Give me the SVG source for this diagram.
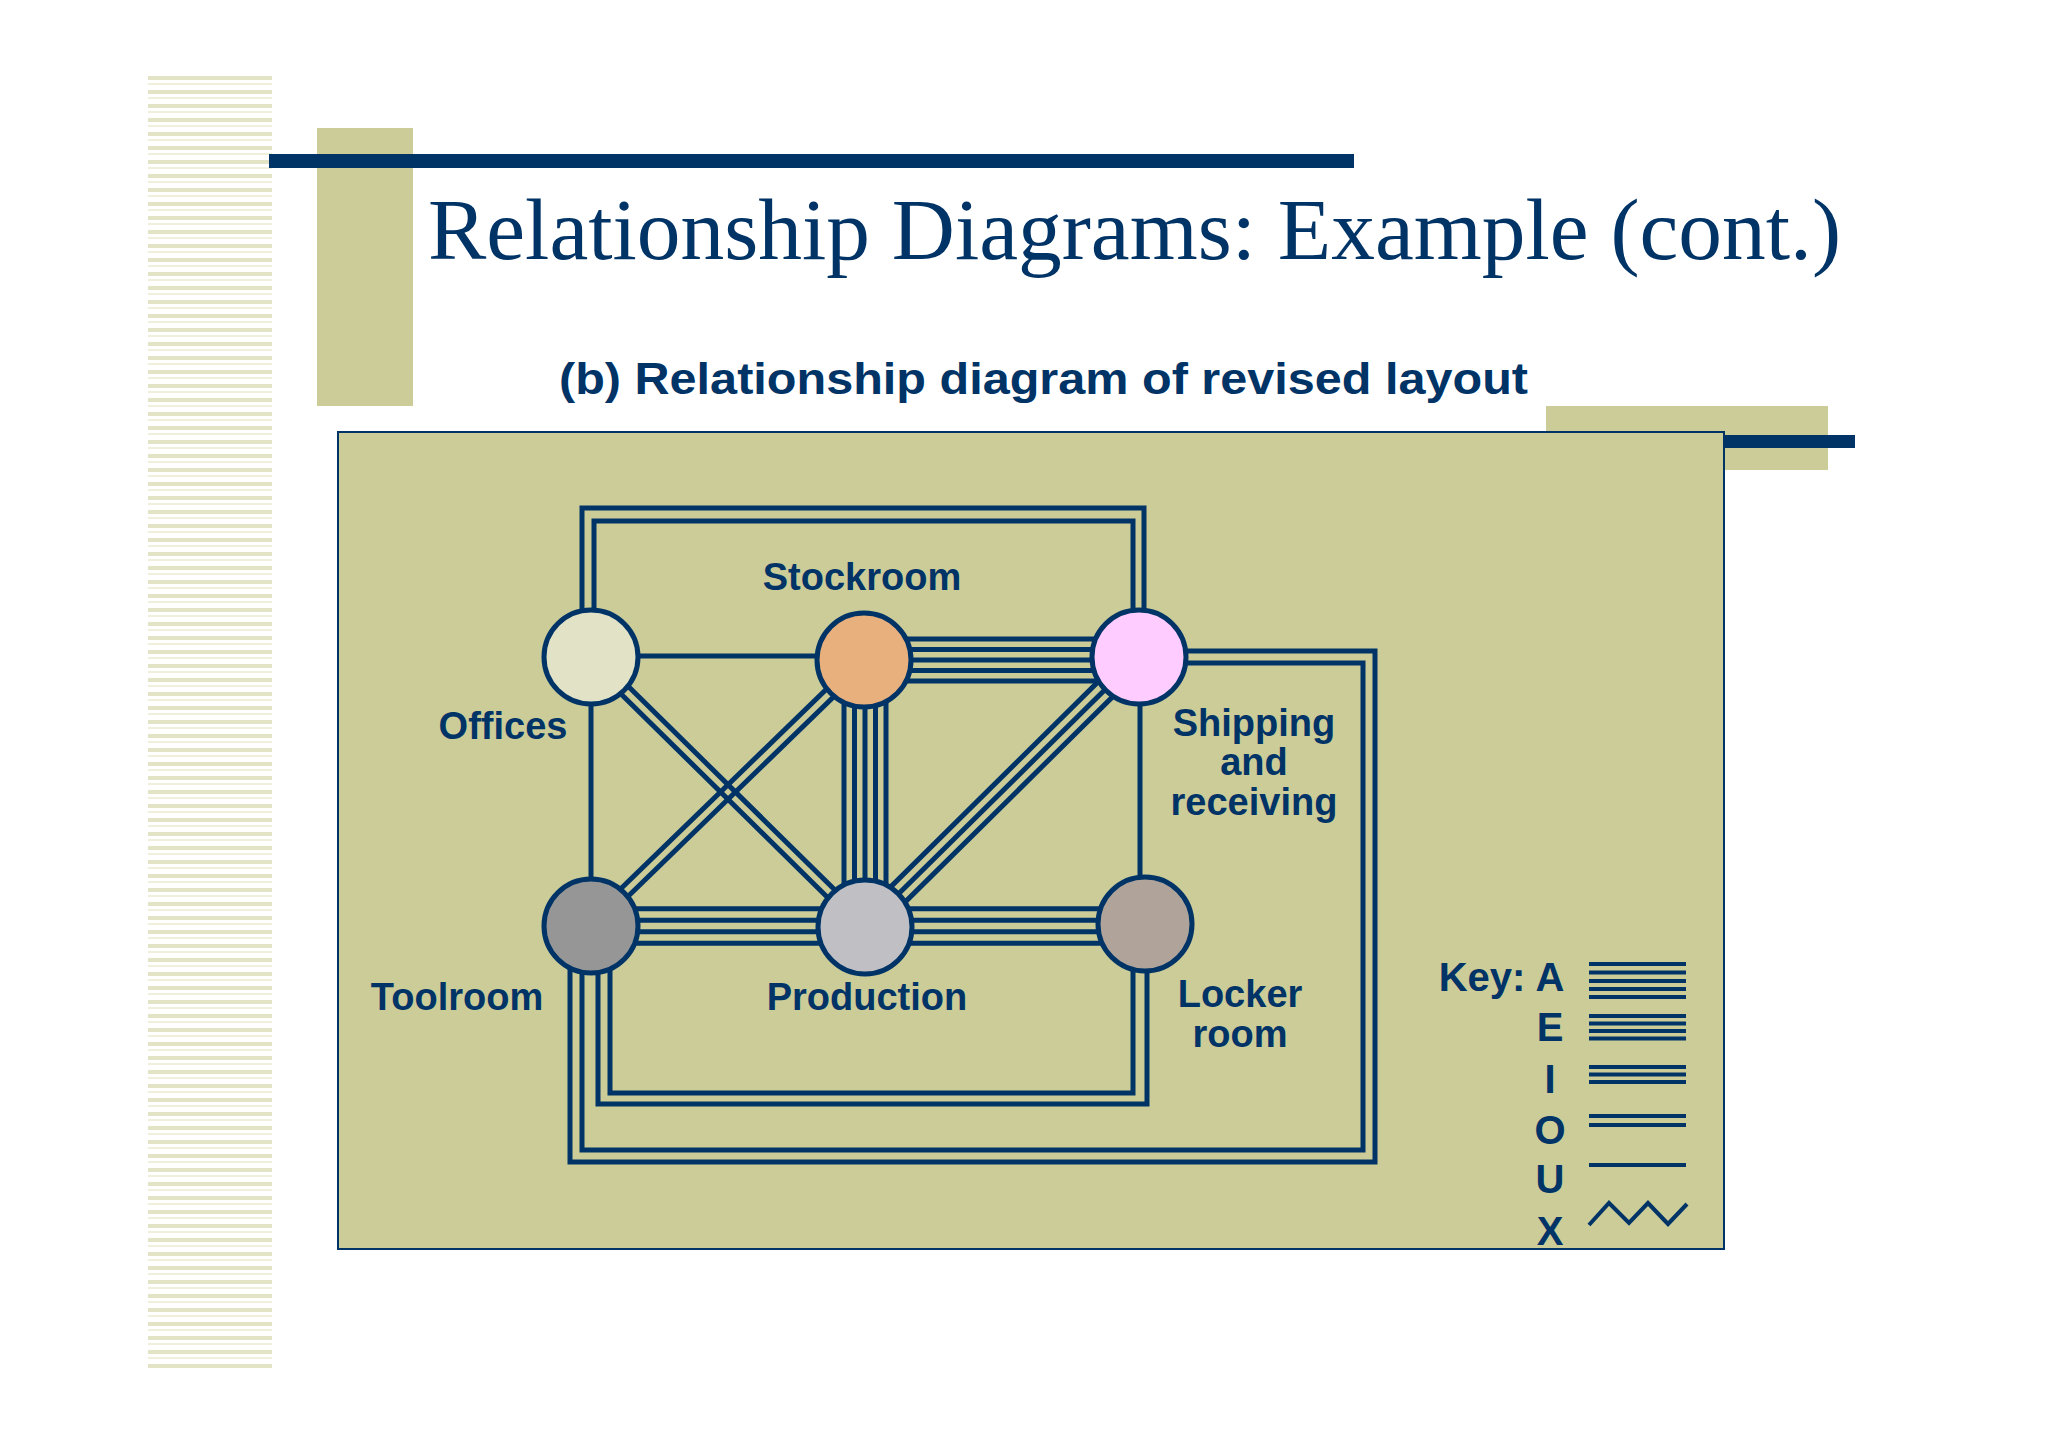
<svg xmlns="http://www.w3.org/2000/svg" width="2048" height="1447" viewBox="0 0 2048 1447">
<defs>
<pattern id="stripes" x="0" y="76" width="124" height="14" patternUnits="userSpaceOnUse">
<rect x="0" y="0" width="124" height="4" fill="#e3e3c6"/>
<rect x="0" y="7" width="124" height="2" fill="#efefdc"/>
</pattern>
<style>
.ln{stroke:#003366;stroke-width:5;fill:none;stroke-linejoin:miter}
.kl{stroke:#003366;stroke-width:4;fill:none}
.node{stroke:#003366;stroke-width:5}
.lbl{font-family:"Liberation Sans",Arial,sans-serif;font-weight:bold;font-size:38px;fill:#003366;text-anchor:middle}
.key{font-family:"Liberation Sans",Arial,sans-serif;font-weight:bold;font-size:40px;fill:#003366;text-anchor:middle}
</style>
</defs>
<rect width="2048" height="1447" fill="#ffffff"/>
<rect x="148" y="76" width="124" height="1293" fill="url(#stripes)"/>
<rect x="317" y="128" width="96" height="278" fill="#cccc99"/>
<rect x="269" y="154" width="1085" height="14" fill="#003366"/>
<text x="428" y="259" font-family="'Liberation Serif','Times New Roman',serif" font-size="86" fill="#003366" textLength="1413" lengthAdjust="spacingAndGlyphs">Relationship Diagrams: Example (cont.)</text>
<text x="559" y="394" font-family="'Liberation Sans',Arial,sans-serif" font-weight="bold" font-size="45" fill="#003366" textLength="969" lengthAdjust="spacingAndGlyphs">(b) Relationship diagram of revised layout</text>
<rect x="1546" y="406" width="282" height="64" fill="#cccc99"/>
<rect x="338" y="432" width="1386" height="817" fill="#cccc99" stroke="#003366" stroke-width="2"/>
<rect x="1724" y="435" width="131" height="13" fill="#003366"/>

<g id="connectors">
<!-- Offices-Shipping O -->
<path class="ln" d="M582,657 V508 H1144 V657"/>
<path class="ln" d="M594,657 V521 H1133 V657"/>
<!-- Offices-Stockroom U -->
<path class="ln" d="M591,656 H864"/>
<!-- Offices-Toolroom U -->
<path class="ln" d="M591,657 V925"/>
<!-- Shipping-Locker U -->
<path class="ln" d="M1140,657 V923"/>
<!-- Offices-Production O -->
<path class="ln" d="M594.7,653.3 L868.7,923.3 M587.3,660.7 L861.3,930.7"/>
<!-- Stockroom-Toolroom O -->
<path class="ln" d="M867.7,663.7 L594.7,928.7 M860.3,656.3 L587.3,921.3"/>
<!-- Shipping-Production I -->
<path class="ln" d="M1138,657 L865,927 M1145.4,664.4 L872.4,934.4 M1130.6,649.6 L857.6,919.6"/>
<!-- Stockroom-Shipping A -->
<path class="ln" d="M864,639 H1138 M864,649.5 H1138 M864,660 H1138 M864,670.5 H1138 M864,681 H1138"/>
<!-- Stockroom-Production A -->
<path class="ln" d="M844,660 V927 M854.5,660 V927 M865,660 V927 M875.5,660 V927 M886,660 V927"/>
<!-- Toolroom-Production E -->
<path class="ln" d="M591,908.75 H865 M591,920.25 H865 M591,931.75 H865 M591,943.25 H865"/>
<!-- Production-Locker E -->
<path class="ln" d="M865,908.75 H1145 M865,920.25 H1145 M865,931.75 H1145 M865,943.25 H1145"/>
<!-- Toolroom-Locker O -->
<path class="ln" d="M598,925 V1104 H1147 V923"/>
<path class="ln" d="M610,925 V1093 H1133 V923"/>
<!-- Toolroom-Shipping O -->
<path class="ln" d="M570,925 V1162 H1375 V651 H1138"/>
<path class="ln" d="M582,925 V1150 H1363 V663 H1138"/>
</g>

<g id="offices"><circle class="node" cx="591" cy="657" r="47" fill="#e2e2c6"/><text class="lbl" x="503" y="739">Offices</text></g>
<g id="stockroom"><circle class="node" cx="864" cy="660" r="47" fill="#e8b07c"/><text class="lbl" x="862" y="590">Stockroom</text></g>
<g id="shipping"><circle class="node" cx="1139" cy="657" r="47" fill="#ffccff"/><text class="lbl" x="1254" y="736">Shipping</text><text class="lbl" x="1254" y="775">and</text><text class="lbl" x="1254" y="815">receiving</text></g>
<g id="toolroom"><circle class="node" cx="591" cy="926" r="47" fill="#969696"/><text class="lbl" x="457" y="1010">Toolroom</text></g>
<g id="production"><circle class="node" cx="865" cy="927" r="47" fill="#c0c0c4"/><text class="lbl" x="867" y="1010">Production</text></g>
<g id="locker"><circle class="node" cx="1145" cy="924" r="47" fill="#b0a49a"/><text class="lbl" x="1240" y="1007">Locker</text><text class="lbl" x="1240" y="1047">room</text></g>

<g id="key">
<text class="key" x="1482" y="991">Key:</text>
<text class="key" x="1550" y="991">A</text>
<text class="key" x="1550" y="1041">E</text>
<text class="key" x="1550" y="1093">I</text>
<text class="key" x="1550" y="1144">O</text>
<text class="key" x="1550" y="1193">U</text>
<text class="key" x="1550" y="1245">X</text>
<path class="kl" d="M1589,964 H1686 M1589,972.5 H1686 M1589,981 H1686 M1589,989 H1686 M1589,997 H1686"/>
<path class="kl" d="M1589,1016 H1686 M1589,1023.5 H1686 M1589,1031 H1686 M1589,1038.5 H1686"/>
<path class="kl" d="M1589,1067 H1686 M1589,1074.5 H1686 M1589,1082 H1686"/>
<path class="kl" d="M1589,1116 H1686 M1589,1125 H1686"/>
<path class="kl" d="M1589,1165 H1686"/>
<polyline class="kl" points="1589,1225 1609,1203 1629,1223 1648,1203 1668,1224 1687,1204"/>
</g>
</svg>
